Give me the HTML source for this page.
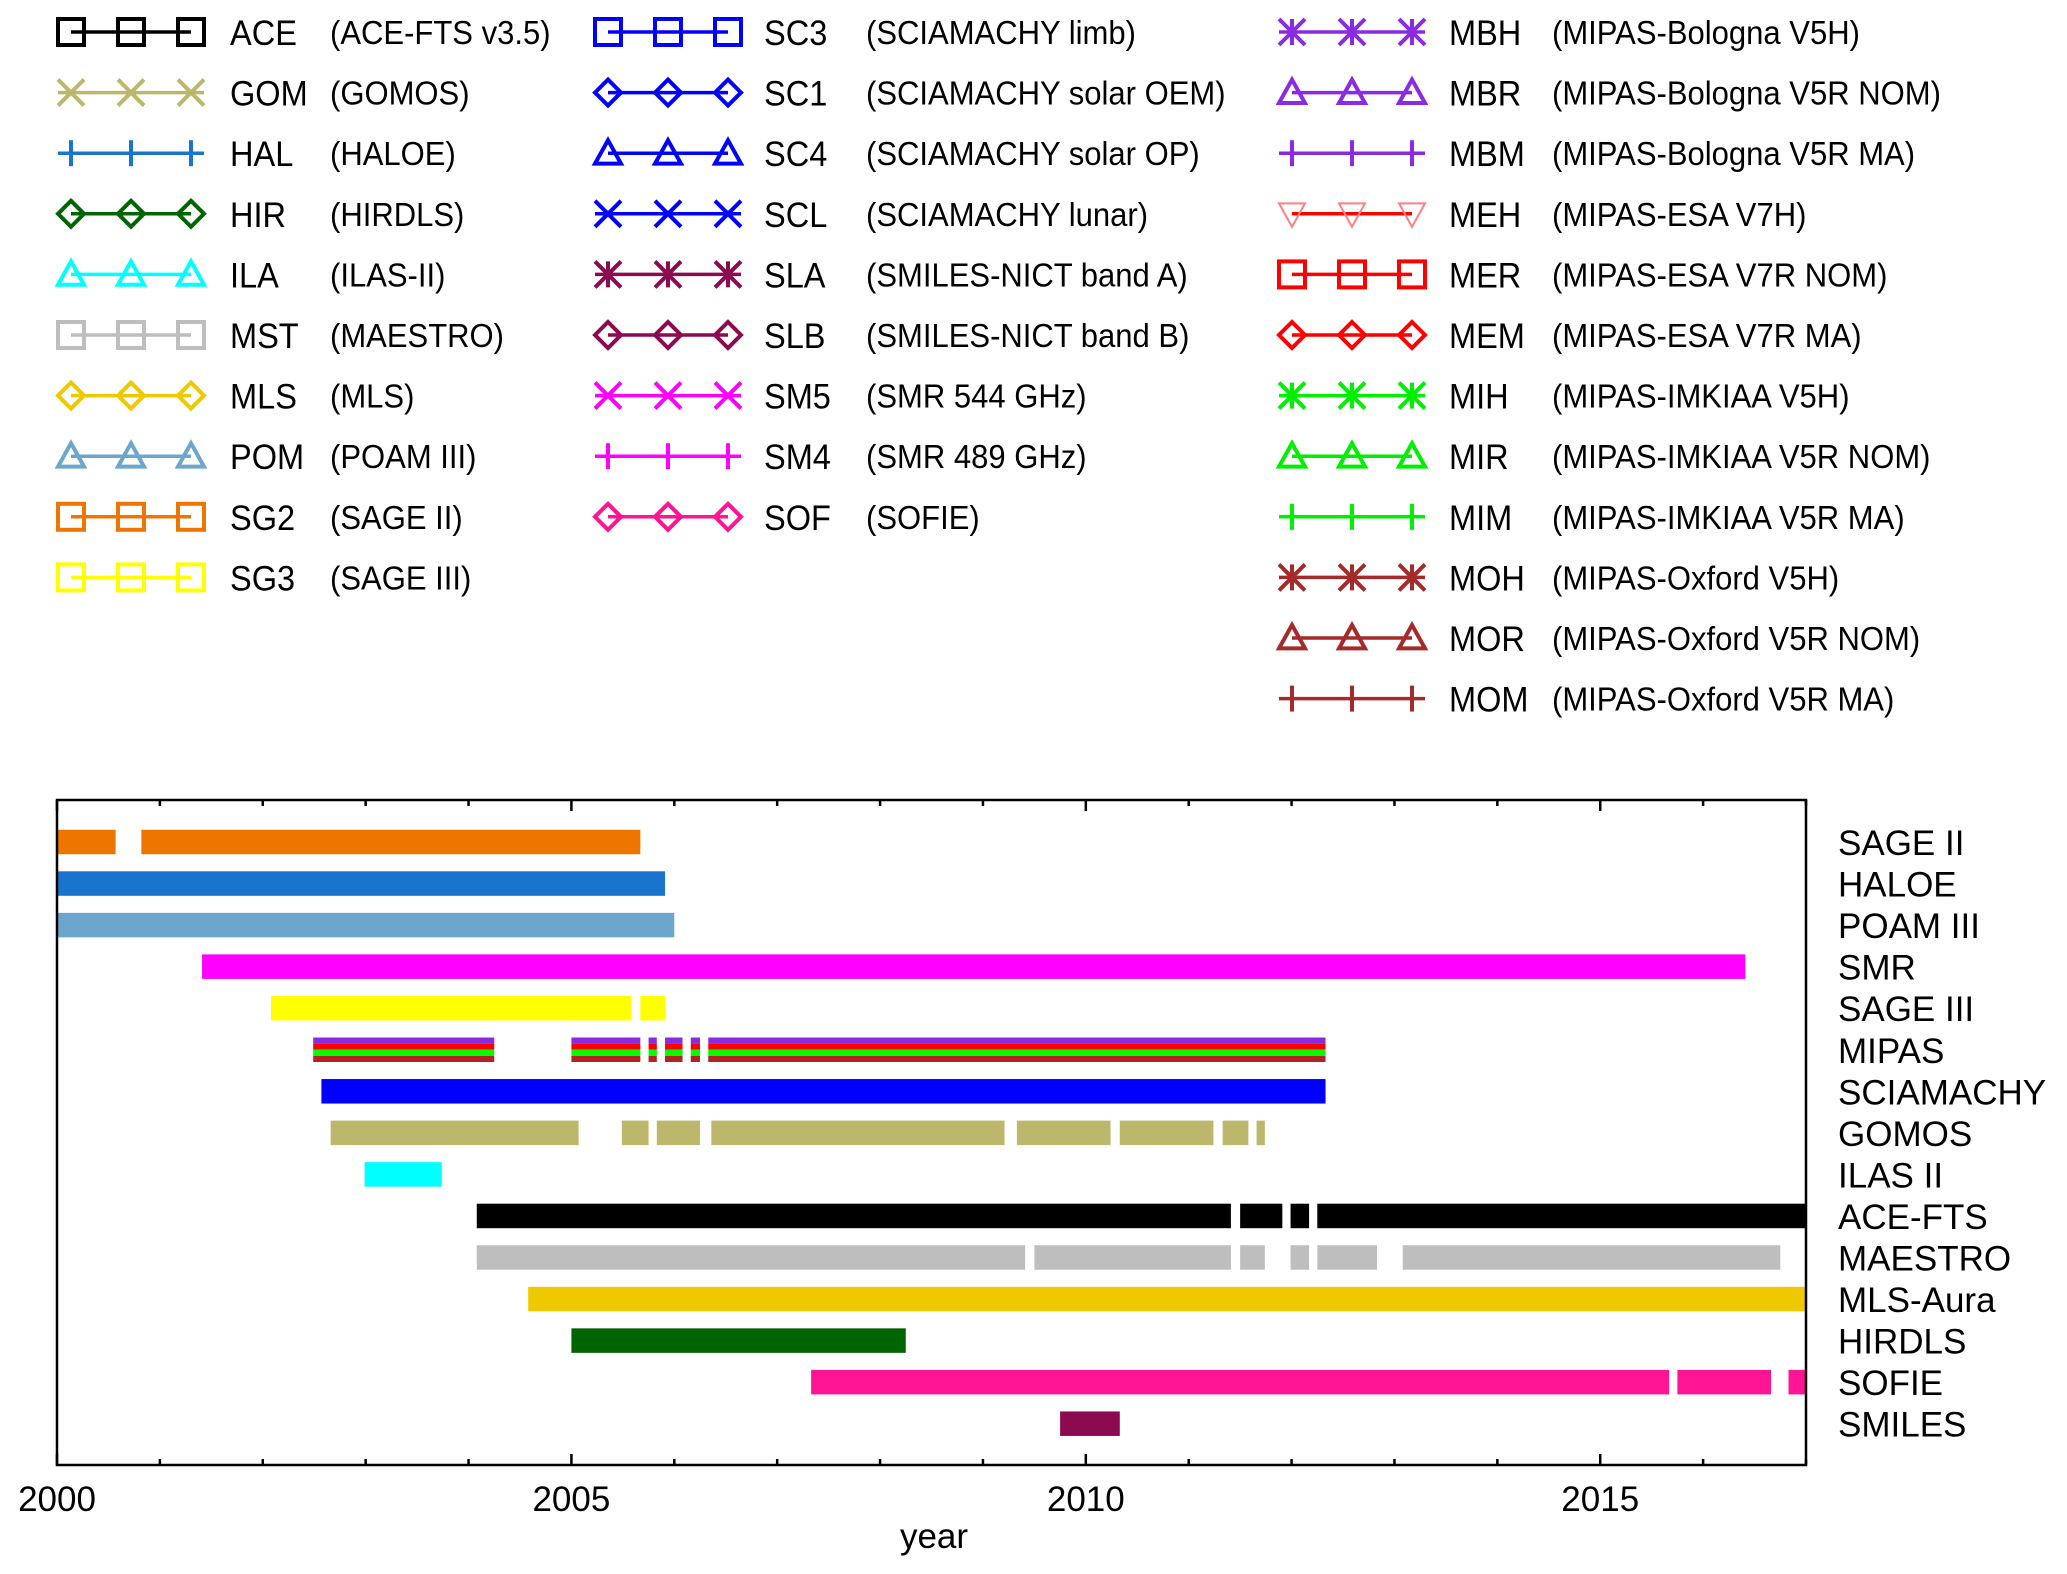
<!DOCTYPE html>
<html><head><meta charset="utf-8"><style>
html,body{margin:0;padding:0;background:#fff;}
svg{display:block;font-family:"Liberation Sans",Arial,sans-serif;}
</style></head><body>
<svg id="fig" width="2067" height="1574" viewBox="0 0 2067 1574" xmlns="http://www.w3.org/2000/svg">
<g id="legend"></g>
<g id="chart"></g>
</svg>
<script>
// ---- Legend data ----
const legAbbr = [
 ["ACE","GOM","HAL","HIR","ILA","MST","MLS","POM","SG2","SG3"],
 ["SC3","SC1","SC4","SCL","SLA","SLB","SM5","SM4","SOF"],
 ["MBH","MBR","MBM","MEH","MER","MEM","MIH","MIR","MIM","MOH","MOR","MOM"]];
const legDesc = [
 ["(ACE-FTS v3.5)","(GOMOS)","(HALOE)","(HIRDLS)","(ILAS-II)","(MAESTRO)","(MLS)","(POAM III)","(SAGE II)","(SAGE III)"],
 ["(SCIAMACHY limb)","(SCIAMACHY solar OEM)","(SCIAMACHY solar OP)","(SCIAMACHY lunar)","(SMILES-NICT band A)","(SMILES-NICT band B)","(SMR 544 GHz)","(SMR 489 GHz)","(SOFIE)"],
 ["(MIPAS-Bologna V5H)","(MIPAS-Bologna V5R NOM)","(MIPAS-Bologna V5R MA)","(MIPAS-ESA V7H)","(MIPAS-ESA V7R NOM)","(MIPAS-ESA V7R MA)","(MIPAS-IMKIAA V5H)","(MIPAS-IMKIAA V5R NOM)","(MIPAS-IMKIAA V5R MA)","(MIPAS-Oxford V5H)","(MIPAS-Oxford V5R NOM)","(MIPAS-Oxford V5R MA)"]];
const legColor = [
 ["#000000","#bdb76b","#1874cd","#006400","#00ffff","#bebebe","#eec900","#6ca6cd","#ee7600","#ffff00"],
 ["#0000ff","#0000ff","#0000ff","#0000ff","#8b0a50","#8b0a50","#ff00ff","#ff00ff","#ff1493"],
 ["#8a2be2","#8a2be2","#8a2be2","#ff0000","#ff0000","#ff0000","#00ee00","#00ee00","#00ee00","#a52a2a","#a52a2a","#a52a2a"]];
const legMarker = [
 ["sq","x","plus","dia","tri","sq","dia","tri","sq","sq"],
 ["sq","dia","tri","x","ast","dia","x","plus","dia"],
 ["ast","tri","plus","dtri","sq","dia","ast","tri","plus","ast","tri","plus"]];

// ---- Chart data (years) ----
const instruments = ["SAGE II","HALOE","POAM III","SMR","SAGE III","MIPAS","SCIAMACHY","GOMOS","ILAS II","ACE-FTS","MAESTRO","MLS-Aura","HIRDLS","SOFIE","SMILES"];
const barColors = ["#ee7600","#1874cd","#6ca6cd","#ff00ff","#ffff00","mipas","#0000ff","#bdb76b","#00ffff","#000000","#bebebe","#eec900","#006400","#ff1493","#8b0a50"];
const periods = [
 [[2000.0,2000.57],[2000.82,2005.67]],
 [[2000.0,2005.91]],
 [[2000.0,2006.0]],
 [[2001.41,2016.41]],
 [[2002.08,2005.58],[2005.67,2005.91]],
 [[2002.49,2004.25],[2005.0,2005.67],[2005.75,2005.83],[2005.91,2006.08],[2006.16,2006.25],[2006.33,2012.33]],
 [[2002.57,2012.33]],
 [[2002.66,2005.07],[2005.49,2005.75],[2005.83,2006.25],[2006.36,2009.21],[2009.33,2010.24],[2010.33,2011.24],[2011.33,2011.58],[2011.66,2011.74]],
 [[2002.99,2003.74]],
 [[2004.08,2011.41],[2011.50,2011.91],[2011.99,2012.17],[2012.25,2017.0]],
 [[2004.08,2009.41],[2009.50,2011.41],[2011.50,2011.74],[2011.99,2012.17],[2012.25,2012.83],[2013.08,2016.75]],
 [[2004.58,2017.0]],
 [[2005.0,2008.25]],
 [[2007.33,2015.67],[2015.75,2016.66],[2016.83,2017.0]],
 [[2009.75,2010.33]]];
const mipasStripes = ["#8a2be2","#ff0000","#00ff00","#b22222"];
const xTicks = [2000,2005,2010,2015];
const xMin = 2000, xMax = 2017;

const NS = "http://www.w3.org/2000/svg";
function mk(tag, attrs, parent){ const e=document.createElementNS(NS,tag); for(const k in attrs) e.setAttribute(k,attrs[k]); parent.appendChild(e); return e; }

// ---- Legend ----
const legend = document.getElementById('legend');
const colX = [58, 595, 1279];
const abbrX = [230, 764, 1449];
const descX = [330, 866, 1552];
function marker(g, type, cx, cy, col){
  const s=13, sw=4;
  const a={fill:"none",stroke:col,"stroke-width":sw};
  let e;
  if(type==="sq") e=mk('rect',Object.assign({x:cx-s,y:cy-s,width:2*s,height:2*s},a),g);
  else if(type==="dia") e=mk('polygon',Object.assign({points:`${cx},${cy-s} ${cx+s},${cy} ${cx},${cy+s} ${cx-s},${cy}`},a),g);
  else if(type==="tri") e=mk('polygon',Object.assign({points:`${cx},${cy-s} ${cx+s},${cy+s*0.8} ${cx-s},${cy+s*0.8}`},a),g);
  else if(type==="dtri") e=mk('polygon',Object.assign({points:`${cx-s},${cy-s*0.8} ${cx+s},${cy-s*0.8} ${cx},${cy+s}`},{fill:"none",stroke:"#ff8080","stroke-width":2}),g);
  else if(type==="x") e=mk('path',Object.assign({d:`M${cx-s} ${cy-s}L${cx+s} ${cy+s}M${cx+s} ${cy-s}L${cx-s} ${cy+s}`},a),g);
  else if(type==="plus") e=mk('path',Object.assign({d:`M${cx} ${cy-s}V${cy+s}`},a),g);
  else if(type==="ast") e=mk('path',Object.assign({d:`M${cx} ${cy-s}V${cy+s}M${cx-s} ${cy-s}L${cx+s} ${cy+s}M${cx+s} ${cy-s}L${cx-s} ${cy+s}`},a),g);
  
  
}
for(let c=0;c<3;c++){
  for(let r=0;r<legAbbr[c].length;r++){
    const cy = 32 + 60.6*r;
    const col = legColor[c][r];
    const mt = legMarker[c][r];
    const g = mk('g',{},legend);
    
    
    const x1 = (mt==="plus"||mt==="x"||mt==="ast") ? colX[c] : colX[c]+13;
    const x2 = (mt==="plus"||mt==="x"||mt==="ast") ? colX[c]+146 : colX[c]+133;
    const ln = mk('line',{x1:x1,y1:cy,x2:x2,y2:cy,stroke:mt==="dtri"?"#ff0000":col,"stroke-width":3.5},g);
    
    
    for(let k=0;k<3;k++) marker(g, mt, colX[c]+13+60*k, cy, col);
    const t1 = mk('text',{x:0,y:0,"font-size":35,transform:`translate(${abbrX[c]},${cy+13}) scale(0.93,1)`},g);
    t1.textContent = legAbbr[c][r];
    
    
    const t2 = mk('text',{x:0,y:0,"font-size":33,transform:`translate(${descX[c]},${cy+12}) scale(0.94,1)`},g);
    t2.textContent = legDesc[c][r];
    
    
  }
}

// ---- Chart ----
const chart = document.getElementById('chart');
const L=57, R=1806, T=800, B=1465;
const xs = y => L + (y - xMin)/(xMax - xMin)*(R-L);
const rowY = i => 842 + 41.55*i;
const bh = 24.5;

for(let i=0;i<instruments.length;i++){
  const g = mk('g',{},chart);
  
  
  const cy = rowY(i);
  for(const p of periods[i]){
    const x1=xs(p[0]), x2=xs(Math.min(p[1],xMax));
    if(barColors[i]==="mipas"){
      const sh=bh/4;
      mipasStripes.forEach((c,k)=>{
        const r = mk('rect',{x:x1,y:cy-bh/2+k*sh,width:x2-x1,height:sh,fill:c},g);
        
        
      });
    } else {
      const r = mk('rect',{x:x1,y:cy-bh/2,width:x2-x1,height:bh,fill:barColors[i]},g);
      
      
    }
  }
  const lab = mk('text',{x:1838,y:cy+13,"font-size":35},chart);
  lab.textContent = instruments[i];
  
  
}
// frame
const fr = mk('rect',{x:L,y:T,width:R-L,height:B-T,fill:"none",stroke:"#000","stroke-width":2.5},chart);


// ticks
for(let yr=xMin; yr<=xMax; yr++){
  const x=xs(yr); const len = (yr%5===0)?11:6;
  const t1=mk('line',{x1:x,y1:B,x2:x,y2:B-len,stroke:"#000","stroke-width":2.5},chart);
  
  
  const t2=mk('line',{x1:x,y1:T,x2:x,y2:T+len,stroke:"#000","stroke-width":2.5},chart);
  
  
}
for(const tk of xTicks){
  const t=mk('text',{x:xs(tk),y:1511,"font-size":35,"text-anchor":"middle"},chart);
  t.textContent=String(tk);
  
  
}
const xt=mk('text',{x:934,y:1548,"font-size":35,"text-anchor":"middle"},chart);
xt.textContent="year";


</script>
</body></html>
